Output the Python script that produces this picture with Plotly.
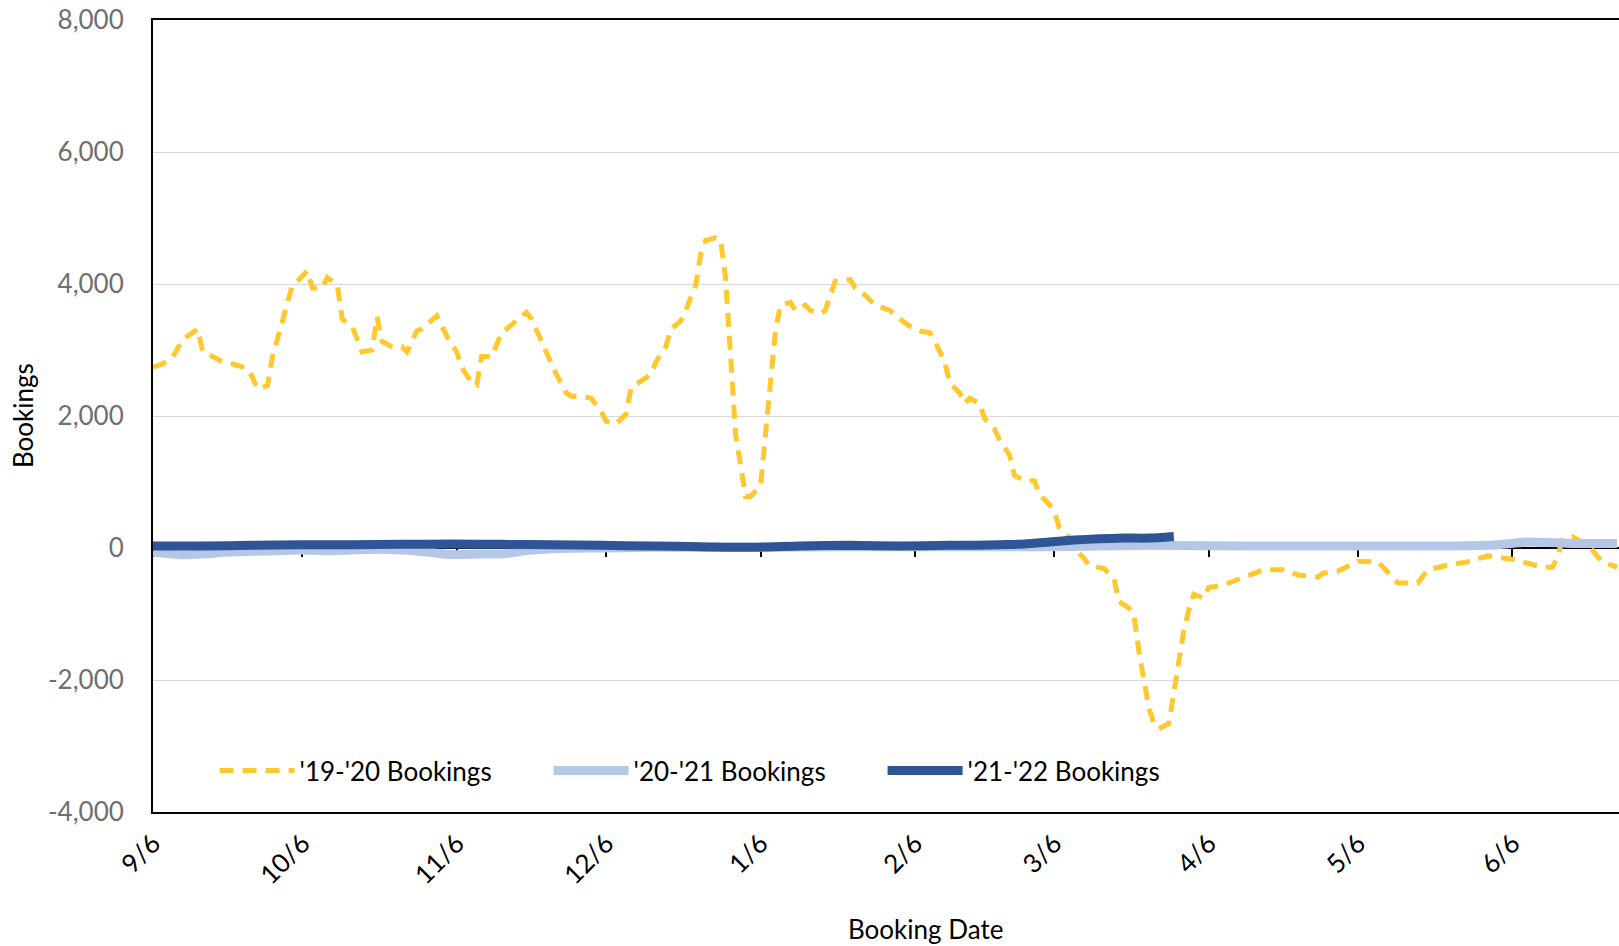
import pandas as pd
import plotly.graph_objects as go

# ---------------- data ----------------
start_date = "2021-09-06"

# '19-'20 Bookings (day offset from 9/6, bookings)
days_1920 = [0, 2, 4, 6, 9, 10, 12, 14, 16, 19, 20, 21, 23, 24, 26, 28, 29, 31, 32, 34,
             35, 37, 38, 40, 42, 44, 45, 46, 48, 50, 51, 53, 54, 56, 57, 59, 61, 62, 64, 65,
             66, 68, 70, 71, 73, 75, 76, 78, 79, 81, 83, 84, 86, 88, 90, 91, 93, 95, 96, 98,
             100, 101, 103, 104, 106, 107, 109, 110, 111, 113, 114, 115, 116, 117, 119, 120, 122, 123, 124, 125,
             126, 128, 129, 131, 132, 134, 135, 137, 138, 140, 141, 143, 145, 148, 150, 152, 154, 156, 157, 159,
             160, 162, 163, 164, 166, 167, 169, 170, 172, 173, 175, 177, 178, 180, 181, 182, 184, 185, 187, 188,
             189, 191, 193, 194, 196, 197, 198, 199, 200, 201, 202, 204, 205, 206, 207, 208, 209, 211, 212, 215,
             218, 220, 223, 227, 230, 234, 235, 238, 242, 246, 249, 250, 254, 256, 260, 264, 268, 270, 273, 276,
             279, 281, 282, 283, 285, 287, 289, 291, 293, 294]
vals_1920 = [2740, 2790, 2900, 3160, 3320, 2970, 2900, 2820, 2790, 2720, 2580, 2410, 2460, 2900, 3440, 3990, 4040, 4200, 3940, 3940,
             4100, 3990, 3470, 3360, 2970, 3000, 3500, 3130, 3050, 3050, 2970, 3290, 3320, 3440, 3520, 3210, 2970, 2740, 2500, 2470,
             2900, 2900, 3260, 3320, 3440, 3570, 3470, 3130, 3000, 2630, 2350, 2300, 2300, 2270, 2070, 1920, 1880, 2030, 2430, 2540,
             2630, 2820, 3050, 3320, 3440, 3600, 3990, 4460, 4660, 4700, 4660, 4070, 2970, 1720, 780, 780, 940, 1720, 2500, 3290,
             3680, 3720, 3600, 3680, 3600, 3550, 3600, 4040, 4040, 4070, 3940, 3830, 3680, 3600, 3470, 3360, 3290, 3260, 3130, 2820,
             2500, 2350, 2190, 2270, 2190, 1960, 1800, 1640, 1410, 1100, 1020, 1020, 810, 660, 550, 310, 160, 0, -160, -270,
             -280, -310, -470, -810, -910, -1020, -1570, -2030, -2430, -2660, -2740, -2660, -2190, -1720, -1250, -940, -700, -760, -600, -560,
             -480, -410, -330, -330, -410, -440, -380, -350, -200, -210, -450, -530, -530, -330, -260, -210, -120, -140, -170, -230,
             -290, -290, -150, 120, 170, 90, -30, -210, -270, -290]

# '20-'21 Bookings
days_2021 = [0, 5, 10, 15, 20, 25, 30, 35, 45, 50, 55, 60, 65, 70, 75, 80, 90, 100, 120, 140,
             160, 180, 190, 200, 220, 240, 260, 270, 276, 285, 294]
vals_2021 = [-60, -100, -90, -60, -50, -40, -30, -40, -20, -30, -60, -100, -90, -90, -40, -10, 0, 10, 10, 20,
             20, 20, 30, 40, 30, 30, 30, 50, 90, 70, 70]

# '21-'22 Bookings
days_2122 = [0, 10, 20, 30, 40, 50, 60, 70, 80, 90, 100, 110, 120, 130, 140, 150, 160, 165, 170, 175,
             180, 185, 190, 195, 200, 205]
vals_2122 = [30, 30, 40, 50, 50, 55, 60, 55, 50, 40, 30, 20, 10, 30, 40, 30, 40, 40, 50, 60,
             90, 120, 140, 150, 150, 175]

tick_dates = ["2021-09-06", "2021-10-06", "2021-11-06", "2021-12-06", "2022-01-06",
              "2022-02-06", "2022-03-06", "2022-04-06", "2022-05-06", "2022-06-06"]
tick_labels = ["9/6", "10/6", "11/6", "12/6", "1/6", "2/6", "3/6", "4/6", "5/6", "6/6"]
y_ticks = [-4000, -2000, 0, 2000, 4000, 6000, 8000]
y_tick_labels = ["-4,000", "-2,000", "0", "2,000", "4,000", "6,000", "8,000"]

series_names = ["'19-'20 Bookings", "'20-'21 Bookings", "'21-'22 Bookings"]

# ---------------- figure ----------------
base = pd.Timestamp(start_date)


def to_dates(days):
    return [base + pd.Timedelta(days=d) for d in days]


FONT = "Lato"
x_end = base + pd.Timedelta(days=294.4)

fig = go.Figure()
fig.add_trace(go.Scatter(x=to_dates(days_1920), y=vals_1920, mode="lines", name=series_names[0],
                         xaxis="x", yaxis="y",
                         line=dict(color="#FFC82E", width=5, dash="14px,9px")))
fig.add_trace(go.Scatter(x=to_dates(days_2021), y=vals_2021, mode="lines", name=series_names[1],
                         xaxis="x", yaxis="y",
                         line=dict(color="#B4C7E7", width=9, shape="spline", smoothing=0.6)))
# latest season drawn on the overlaid axis whose line sits at the zero value
fig.add_trace(go.Scatter(x=to_dates(days_2122), y=vals_2122, mode="lines", name=series_names[2],
                         xaxis="x2", yaxis="y",
                         line=dict(color="#2F5597", width=9, shape="spline", smoothing=0.6)))

common_x = dict(type="date", range=[base, x_end], tickvals=pd.to_datetime(tick_dates),
                showgrid=False, zeroline=False)

fig.update_layout(
    width=1619, height=946,
    margin=dict(l=153, r=0, t=20, b=134),
    paper_bgcolor="white", plot_bgcolor="white",
    font=dict(family=FONT, size=26, color="black"),
    xaxis=dict(**common_x, ticktext=tick_labels, tickangle=-45, ticks="",
               showline=True, linecolor="black", linewidth=2, mirror=True,
               tickfont=dict(family=FONT, size=26, color="black"),
               ticklabelstandoff=4),
    xaxis2=dict(**common_x, overlaying="x", anchor="free", position=1/3,
                showticklabels=False, ticks="outside", ticklen=8, tickwidth=2, tickcolor="black",
                showline=True, linecolor="black", linewidth=1.5, layer="below traces"),
    yaxis=dict(range=[-4000, 8000], tickvals=y_ticks, ticktext=y_tick_labels, showgrid=True,
               gridcolor="#D9D9D9", gridwidth=1, zeroline=False,
               showline=True, linecolor="black", linewidth=2, ticks="",
               tickfont=dict(family=FONT, size=26, color="#6F6F6F"),
               ticklabelstandoff=22, ticklabeloverflow="allow", automargin=False),
    showlegend=True,
    legend=dict(orientation="h", x=0.042, xanchor="left", y=0.0523, yanchor="middle",
                bgcolor="rgba(0,0,0,0)", font=dict(family=FONT, size=26, color="black"),
                itemwidth=75, entrywidth=244, entrywidthmode="pixels", tracegroupgap=0),
    annotations=[
        dict(text="Bookings", xref="paper", yref="paper", x=0, y=0.5, xshift=-130,
             textangle=-90, showarrow=False, xanchor="center", yanchor="middle",
             font=dict(family=FONT, size=26, color="black")),
        dict(text="Booking Date", xref="paper", yref="paper", x=(926 - 153) / 1466, y=0,
             yshift=-117, showarrow=False, xanchor="center", yanchor="middle",
             font=dict(family=FONT, size=26, color="black")),
    ],
)

# let the 1619x946 figure fill the page exactly (no default body margin)
fig.write_html("out.html",
               config={"displayModeBar": False},
               post_script="document.body.style.margin='0px';document.body.style.overflow='hidden';")
